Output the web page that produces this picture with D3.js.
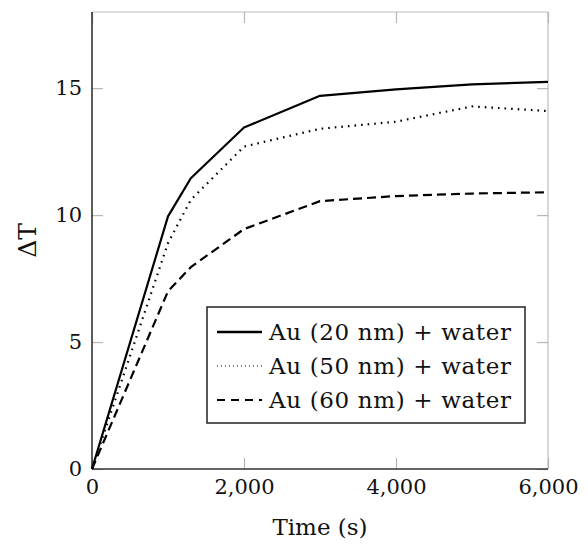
<!DOCTYPE html>
<html>
<head>
<meta charset="utf-8">
<script src="https://cdn.jsdelivr.net/npm/d3@7"></script>
<style>
  body { margin: 0; background: #fff; }
  text { font-family: "DejaVu Serif", serif; fill: #111; }
</style>
</head>
<body>
<div id="chart"></div>
<script>
// data
let times = [0, 1000, 1300, 2000, 3000, 4000, 5000, 6000];
let au20 = [0, 9.95, 11.45, 13.45, 14.7, 14.95, 15.15, 15.25];
let au50 = [0, 8.9, 10.6, 12.7, 13.4, 13.68, 14.28, 14.1];
let au60 = [0, 7.0, 7.95, 9.45, 10.55, 10.75, 10.85, 10.9];
let seriesNames = ["Au (20 nm) + water", "Au (50 nm) + water", "Au (60 nm) + water"];
let xTicks = [0, 2000, 4000, 6000];
let yTicks = [0, 5, 10, 15];

let width = 588, height = 545;
let margin = {top: 12, right: 40, bottom: 76, left: 92};

let svg = d3.select("#chart").append("svg")
  .attr("width", width)
  .attr("height", height);

let x = d3.scaleLinear().domain([0, 6000]).range([margin.left, width - margin.right]);
let y = d3.scaleLinear().domain([0, 18]).range([height - margin.bottom, margin.top]);

// frame: light top/right, dark left/bottom
let x0 = x.range()[0], x1 = x.range()[1], y0 = y.range()[0], y1 = y.range()[1];
svg.append("line").attr("x1", x0).attr("x2", x1).attr("y1", y1).attr("y2", y1)
  .attr("stroke", "#bdbdbd").attr("stroke-width", 1.2);
svg.append("line").attr("x1", x1).attr("x2", x1).attr("y1", y1).attr("y2", y0)
  .attr("stroke", "#bdbdbd").attr("stroke-width", 1.2);

// inward ticks on all sides (gray)
let tickLen = 11;
let tickColor = "#b5b5b5";
let fmt = d3.format(",");

let gx = svg.append("g").attr("transform", `translate(0,${y0})`)
  .call(d3.axisBottom(x).tickValues(xTicks).tickSize(-tickLen).tickPadding(10).tickFormat(fmt));
let gxTop = svg.append("g").attr("transform", `translate(0,${y1})`)
  .call(d3.axisTop(x).tickValues(xTicks).tickSize(-tickLen).tickFormat(""));
let gy = svg.append("g").attr("transform", `translate(${x0},0)`)
  .call(d3.axisLeft(y).tickValues(yTicks).tickSize(-tickLen).tickPadding(10));
let gyRight = svg.append("g").attr("transform", `translate(${x1},0)`)
  .call(d3.axisRight(y).tickValues(yTicks).tickSize(-tickLen).tickFormat(""));

[gx, gxTop, gy, gyRight].forEach(g => {
  g.select(".domain").remove();
  g.selectAll(".tick line").attr("stroke", tickColor).attr("stroke-width", 1.2);
  g.selectAll("text").attr("font-family", "DejaVu Serif").attr("font-size", 21).attr("fill", "#111");
});

svg.append("line").attr("x1", x0).attr("x2", x1).attr("y1", y0).attr("y2", y0)
  .attr("stroke", "#333").attr("stroke-width", 1.6);
svg.append("line").attr("x1", x0).attr("x2", x0).attr("y1", y1).attr("y2", y0)
  .attr("stroke", "#333").attr("stroke-width", 1.6);

// series
let styles = [
  {dash: null, w: 2.2},
  {dash: "1.6,5", w: 2.2},
  {dash: "9,5", w: 2.2}
];
let allSeries = [au20, au50, au60];

let line = d3.line()
  .x((d, i) => x(times[i]))
  .y(d => y(d));

allSeries.forEach((s, k) => {
  svg.append("path")
    .datum(s)
    .attr("d", line)
    .attr("fill", "none")
    .attr("stroke", "#000")
    .attr("stroke-width", styles[k].w)
    .attr("stroke-dasharray", styles[k].dash)
    .attr("stroke-linejoin", "round");
});

// legend
let legend = svg.append("g").attr("transform", "translate(207,307)");
legend.append("rect")
  .attr("width", 318).attr("height", 116)
  .attr("fill", "#fff").attr("stroke", "#222").attr("stroke-width", 1.5);

let legendDash = ["none", "1,3", "8,6"];
let legendWidth = [2.4, 1, 2];
seriesNames.forEach((name, k) => {
  let cy = 25 + k * 34;
  legend.append("line")
    .attr("x1", 10).attr("x2", 55).attr("y1", cy).attr("y2", cy)
    .attr("stroke", "#000")
    .attr("stroke-width", legendWidth[k])
    .attr("stroke-dasharray", legendDash[k]);
  legend.append("text")
    .attr("x", 62).attr("y", cy + 8)
    .attr("font-size", 23)
    .attr("textLength", 242)
    .text(name);
});

// axis labels
svg.append("text")
  .attr("x", (x0 + x1) / 2).attr("y", 535)
  .attr("text-anchor", "middle")
  .attr("font-size", 23)
  .text("Time (s)");

svg.append("text")
  .attr("transform", `translate(36,${(y0 + y1) / 2}) rotate(-90)`)
  .attr("text-anchor", "middle")
  .attr("font-size", 25)
  .text("ΔT");
</script>
</body>
</html>
